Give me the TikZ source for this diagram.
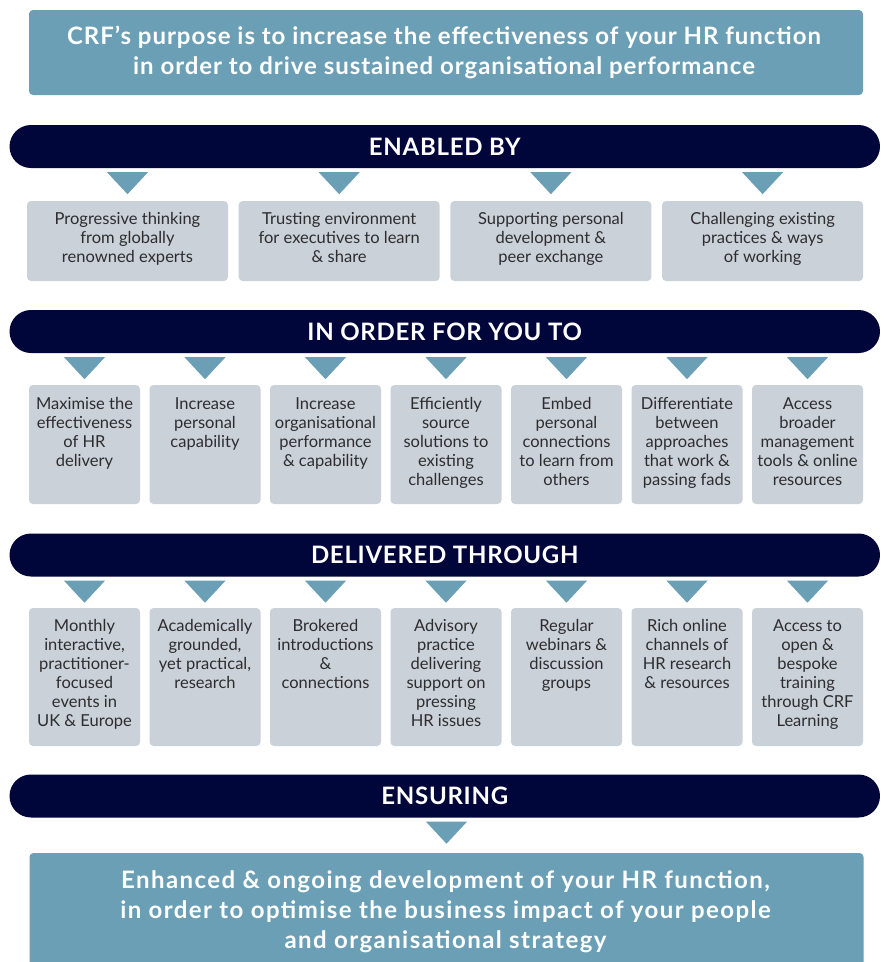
\documentclass[tikz,border=0pt]{standalone}
\usepackage{fontspec}
\setmainfont{Lato}
\usetikzlibrary{calc}

\definecolor{steel}{RGB}{107,159,181}
\definecolor{navy}{RGB}{0,6,58}
\definecolor{panel}{RGB}{203,209,216}
\definecolor{ink}{RGB}{45,45,48}

% centred multi-line text whose reference point is the first baseline
\newcommand\celltext[2]{\parbox[t]{#1}{\centering #2}}

\tikzset{
  banner/.style={fill=steel, rounded corners=4pt, inner sep=0pt, minimum width=834pt},
  bannertext/.style={anchor=base, inner sep=0pt, text=white,
    font=\bfseries\fontsize{24}{30}\selectfont\addfontfeature{LetterSpace=4}},
  outcometext/.style={bannertext,
    font=\bfseries\fontsize{24}{30}\selectfont\addfontfeature{LetterSpace=6}},
  bar/.style={fill=navy, rounded corners=21.5pt, minimum width=870.5pt,
    minimum height=43pt, inner sep=0pt, text=white, text depth=0pt,
    font=\bfseries\fontsize{24}{28}\selectfont\addfontfeature{LetterSpace=3}},
  panelbox/.style={fill=panel, rounded corners=4pt, inner sep=0pt},
  widecell/.style={panelbox, minimum width=201pt, minimum height=80pt},
  cell/.style={panelbox, minimum width=111pt},
  celltxt/.style={anchor=base, inner sep=0pt, text=ink,
    font=\fontsize{16.5}{19}\selectfont},
  pointer/.style={fill=steel},
}

% downward pointer from a bar to the box below it
\newcommand\pointer[2]{%
  \fill[pointer] ($(#1.north |- #2.south)+(-20.5,4)$) -- ++(41,0) -- ++(-20.5,22) -- cycle;}

\begin{document}
\begin{tikzpicture}[x=1pt, y=-1pt]
  \clip (0,0) rectangle (885,962);
  \fill[white] (0,0) rectangle (885,962);

  % purpose statement
  \node[banner, minimum height=85pt] (purpose) at (446,52.5) {};
  \node[bannertext] (purposetxt) at ($(purpose.north)+(-2,35)$)
    {\celltext{830pt}{CRF’s purpose is to increase the effectiveness of your HR function\\
      in order to drive sustained organisational performance}};

  % ---- enabled by ----
  \node[bar] (enabled) at (444.75,146.5) {ENABLED BY};
  \foreach \i/\t in {1/{Progressive thinking\\from globally\\renowned experts},
                     2/{Trusting environment\\for executives to learn\\\& share},
                     3/{Supporting personal\\development \&\\peer exchange},
                     4/{Challenging existing\\practices \& ways\\of working}} {
    \node[widecell] (e\i) at ({127.5+211.7*(\i-1)},241) {};
    \node[celltxt] (e\i t) at ($(e\i.north)+(0,24)$) {\celltext{200pt}{\t}};
    \pointer{e\i}{enabled}
  }

  % ---- in order for you to ----
  \node[bar] (inorder) at (444.75,331.5) {IN ORDER FOR YOU TO};
  \foreach \i/\t in {1/{Maximise the\\effectiveness\\of HR\\delivery},
                     2/{Increase\\personal\\capability},
                     3/{Increase\\organisational\\performance\\\& capability},
                     4/{Efficiently\\source\\solutions to\\existing\\challenges},
                     5/{Embed\\personal\\connections\\to learn from\\others},
                     6/{Differentiate\\between\\approaches\\that work \&\\passing fads},
                     7/{Access\\broader\\management\\tools \& online\\resources}} {
    \node[cell, minimum height=119pt] (o\i) at ({84.5+120.5*(\i-1)},444.5) {};
    \node[celltxt] (o\i t) at ($(o\i.north)+(0,25)$) {\celltext{118pt}{\t}};
    \pointer{o\i}{inorder}
  }

  % ---- delivered through ----
  \node[bar] (delivered) at (444.75,555) {DELIVERED THROUGH};
  \foreach \i/\t in {1/{Monthly\\interactive,\\practitioner-\\focused\\events in\\UK \& Europe},
                     2/{Academically\\grounded,\\yet practical,\\research},
                     3/{Brokered\\introductions\\\&\\connections},
                     4/{Advisory\\practice\\delivering\\support on\\pressing\\HR issues},
                     5/{Regular\\webinars \&\\discussion\\groups},
                     6/{Rich online\\channels of\\HR research\\\& resources},
                     7/{Access to\\open \&\\bespoke\\training\\through CRF\\Learning}} {
    \node[cell, minimum height=138pt] (d\i) at ({84.5+120.5*(\i-1)},677) {};
    \node[celltxt] (d\i t) at ($(d\i.north)+(0,24)$) {\celltext{118pt}{\t}};
    \pointer{d\i}{delivered}
  }

  % ---- ensuring ----
  \node[bar] (ensuring) at (444.75,796) {ENSURING};
  \node[banner, minimum height=140pt] (outcome) at (446.5,923) {};
  \pointer{outcome}{ensuring}
  \node[outcometext] (outcometxt) at ($(outcome.north)+(-1,36)$)
    {\celltext{830pt}{Enhanced \& ongoing development of your HR function,\\
      in order to optimise the business impact of your people\\
      and organisational strategy}};
\end{tikzpicture}
\end{document}
